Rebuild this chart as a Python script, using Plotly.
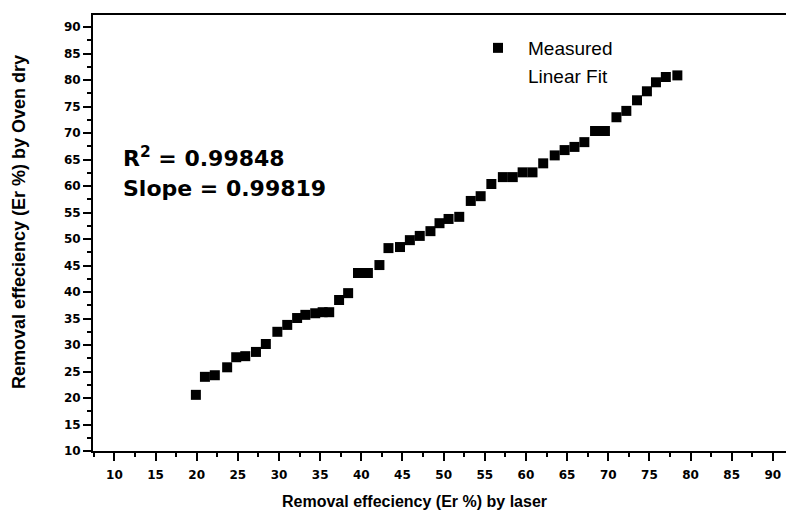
import numpy as np
import plotly.graph_objects as go

laser_er = [19.9, 21.0, 22.2, 23.7, 24.8, 25.9, 27.2, 28.4, 29.8, 31.0,
            32.2, 33.2, 34.4, 35.3, 36.1, 37.3, 38.4, 39.6, 40.8, 42.2,
            43.3, 44.7, 45.9, 47.1, 48.4, 49.5, 50.6, 51.9, 53.3, 54.5,
            55.8, 57.2, 58.4, 59.6, 60.8, 62.1, 63.5, 64.7, 65.9, 67.1,
            68.4, 69.6, 71.0, 72.2, 73.5, 74.7, 75.8, 77.0, 78.4]
oven_er = [20.6, 24.0, 24.3, 25.8, 27.7, 27.9, 28.7, 30.2, 32.5, 33.8,
           35.1, 35.7, 36.0, 36.2, 36.2, 38.5, 39.8, 43.6, 43.6, 45.1,
           48.3, 48.5, 49.8, 50.6, 51.5, 53.0, 53.8, 54.2, 57.2, 58.1,
           60.4, 61.7, 61.7, 62.6, 62.6, 64.3, 65.8, 66.8, 67.4, 68.3,
           70.4, 70.4, 73.0, 74.2, 76.2, 77.9, 79.6, 80.6, 80.9]
tick_vals = [10, 15, 20, 25, 30, 35, 40, 45, 50, 55, 60, 65, 70, 75, 80, 85, 90]
r2_text = "R<sup>2</sup> = 0.99848"
slope_text = "Slope = 0.99819"
x_title = "Removal effeciency (Er %) by laser"
y_title = "Removal effeciency (Er %) by Oven dry"

SANS = "Liberation Sans, Arial, sans-serif"
WIDE = "DejaVu Sans, Verdana, sans-serif"

coef = np.polyfit(laser_er, oven_er, 1)
fit_x = [min(laser_er), max(laser_er)]
fit_y = [coef[0] * v + coef[1] for v in fit_x]

fig = go.Figure()
fig.add_trace(go.Scatter(
    x=laser_er, y=oven_er, mode="markers", name="Measured",
    legendgroup="a",
    marker=dict(symbol="square", size=10, color="black"),
))
fig.add_trace(go.Scatter(
    x=fit_x, y=fit_y, mode="lines", name="Linear Fit",
    legendgroup="b",
    line=dict(color="rgba(255,255,255,0)", width=1),
))

axis_common = dict(
    showgrid=False, zeroline=False, showline=True, linecolor="black",
    linewidth=2, ticks="outside", ticklen=8, tickwidth=1.5, tickcolor="black",
    tickvals=tick_vals,
    tickfont=dict(family=WIDE, size=12, color="black", weight="bold"),
    minor=dict(dtick=2.5, tick0=0, ticks="outside", ticklen=4, tickwidth=1.5,
               tickcolor="black"),
)

fig.update_xaxes(range=[7.4, 91.6], mirror=True, ticklabelstandoff=4, **axis_common)
fig.update_yaxes(range=[10, 92.3], **axis_common)

fig.update_layout(
    width=786, height=515,
    margin=dict(l=93, r=0, t=15, b=64),
    paper_bgcolor="white", plot_bgcolor="white",
    showlegend=True,
    legend=dict(x=(468 - 93) / 693, y=(451 - 29) / 436, xanchor="left", yanchor="top",
                bgcolor="rgba(0,0,0,0)", tracegroupgap=0, traceorder="grouped",
                itemwidth=50,
                font=dict(family=SANS, size=19, color="black")),
    annotations=[
        dict(x=(121 - 93) / 693, y=(451 - 157) / 436, xref="paper", yref="paper",
             xanchor="left", yanchor="middle", showarrow=False,
             text="<b>" + r2_text + "</b>",
             font=dict(family=WIDE, size=22, color="black")),
        dict(x=(121 - 93) / 693, y=(451 - 188) / 436, xref="paper", yref="paper",
             xanchor="left", yanchor="middle", showarrow=False,
             text="<b>" + slope_text + "</b>",
             font=dict(family=WIDE, size=22, color="black")),
        dict(x=(414 - 93) / 693, y=-(501 - 451) / 436, xref="paper", yref="paper",
             xanchor="center", yanchor="middle", showarrow=False,
             text="<b>" + x_title + "</b>",
             font=dict(family=SANS, size=16, color="black")),
        dict(x=-(93 - 19) / 693, y=(451 - 222) / 436, xref="paper", yref="paper",
             xanchor="center", yanchor="middle", showarrow=False, textangle=-90,
             text="<b>" + y_title + "</b>",
             font=dict(family=SANS, size=18, color="black")),
    ],
)

fig.write_html("out.html", config={"displayModeBar": False},
               post_script="document.body.style.margin='0';")
